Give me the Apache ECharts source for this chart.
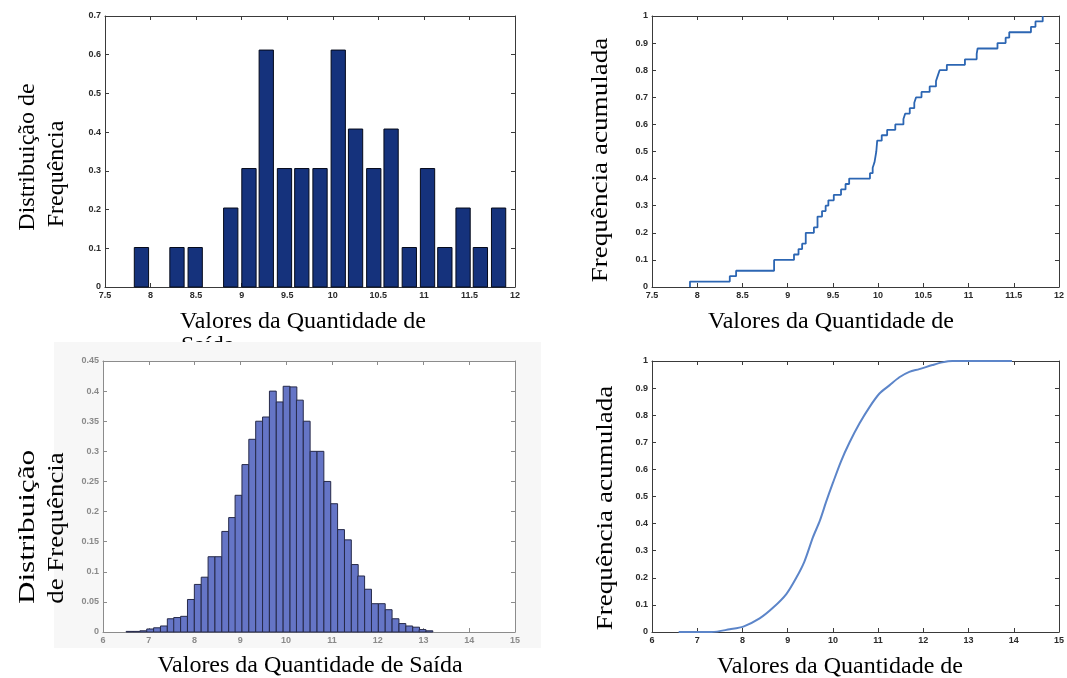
<!DOCTYPE html>
<html>
<head>
<meta charset="utf-8">
<script src="https://cdn.jsdelivr.net/npm/echarts@6/dist/echarts.min.js"></script>
<style>html,body{margin:0;padding:0;background:#fff}#c{width:1067px;height:678px}</style>
</head>
<body>
<div id="c"></div>
<script>
// ---- Data ----
// Top-left histogram (50 samples)
const hist1Centers = [7.9, 8.1, 8.29, 8.49, 8.68, 8.88, 9.08, 9.27, 9.47, 9.66, 9.86, 10.06, 10.25, 10.45, 10.64, 10.84, 11.04, 11.23, 11.43, 11.62, 11.82];
const hist1Values  = [0.102, 0, 0.102, 0.102, 0, 0.204, 0.306, 0.612, 0.306, 0.306, 0.306, 0.612, 0.408, 0.306, 0.408, 0.102, 0.306, 0.102, 0.204, 0.102, 0.204];
const hist1BinWidth = 0.196;

// Top-right empirical cumulative frequency (step points)
const cdf1X = [7.92, 7.92, 8.36, 8.43, 8.85, 9.07, 9.12, 9.16, 9.2, 9.29, 9.33, 9.38, 9.42, 9.45, 9.51, 9.59, 9.64, 9.68, 9.91, 9.94, 9.96, 9.98, 9.99, 10.04, 10.1, 10.19, 10.28, 10.3, 10.35, 10.4, 10.42, 10.48, 10.57, 10.64, 10.66, 10.68, 10.76, 10.96, 11.09, 11.1, 11.32, 11.41, 11.45, 11.69, 11.74, 11.82];
const cdf1Y = [0, 0.02, 0.04, 0.06, 0.1, 0.12, 0.14, 0.16, 0.2, 0.22, 0.26, 0.28, 0.30, 0.32, 0.34, 0.36, 0.38, 0.40, 0.42, 0.44, 0.46, 0.5, 0.54, 0.56, 0.58, 0.60, 0.62, 0.64, 0.66, 0.68, 0.70, 0.72, 0.74, 0.76, 0.78, 0.80, 0.82, 0.84, 0.86, 0.88, 0.90, 0.92, 0.94, 0.96, 0.98, 1.0];

// Bottom-left histogram
const hist2Centers = [6.58, 6.73, 6.88, 7.03, 7.18, 7.33, 7.48, 7.62, 7.77, 7.92, 8.07, 8.22, 8.37, 8.52, 8.67, 8.82, 8.96, 9.11, 9.26, 9.41, 9.56, 9.71, 9.86, 10.01, 10.16, 10.30, 10.45, 10.60, 10.75, 10.90, 11.05, 11.20, 11.35, 11.50, 11.64, 11.79, 11.94, 12.09, 12.24, 12.39, 12.54, 12.69, 12.84, 12.98, 13.13];
const hist2Values  = [0.001, 0.001, 0.002, 0.005, 0.007, 0.010, 0.022, 0.024, 0.026, 0.054, 0.079, 0.091, 0.125, 0.125, 0.167, 0.19, 0.227, 0.278, 0.32, 0.35, 0.357, 0.40, 0.382, 0.408, 0.407, 0.385, 0.35, 0.30, 0.30, 0.25, 0.213, 0.17, 0.153, 0.112, 0.093, 0.071, 0.047, 0.047, 0.037, 0.022, 0.014, 0.010, 0.008, 0.004, 0.002];
const hist2BinWidth = 0.149;

// Bottom-right cumulative frequency
const cdf2X = [6.59, 7.32, 7.72, 8.02, 8.38, 8.68, 8.97, 9.19, 9.37, 9.56, 9.71, 9.85, 10.0, 10.18, 10.37, 10.59, 10.81, 11.03, 11.25, 11.47, 11.69, 11.91, 12.2, 12.42, 12.64, 13.96];
const cdf2Y = [0, 0, 0.01, 0.02, 0.05, 0.09, 0.14, 0.2, 0.26, 0.35, 0.41, 0.48, 0.55, 0.63, 0.70, 0.77, 0.83, 0.88, 0.91, 0.94, 0.96, 0.97, 0.985, 0.995, 1.0, 1.0];

// Axis ranges
const xRangeTop = {min: 7.5, max: 12, interval: 0.5};
const xRangeBottom = {min: 6, max: 15, interval: 1};
const yRangeTL = {min: 0, max: 0.7, interval: 0.1};
const yRangeBL = {min: 0, max: 0.45, interval: 0.05};
const yRangeCdf = {min: 0, max: 1, interval: 0.1};

const xTitle = 'Valores da Quantidade de';
const xTitleFull = 'Valores da Quantidade de Saída';
const yTitleCdf = 'Frequência acumulada';

// ---- Chart ----
const chart = echarts.init(document.getElementById('c'), null, {renderer: 'canvas'});
const serif = '"Liberation Serif", "Times New Roman", serif';
const Z = 1; // chart layer above the pasted-panel background layer

const grids = [
  {left: 105, top: 16, width: 410, height: 271, zlevel: Z},
  {left: 652, top: 16, width: 410, height: 271, zlevel: Z},
  {left: 103, top: 361, width: 412, height: 271, zlevel: Z, show: true, backgroundColor: '#ffffff', borderWidth: 0, borderColor: 'transparent'},
  {left: 652, top: 361, width: 409, height: 271, zlevel: Z}
];
const xRanges = [xRangeTop, xRangeTop, xRangeBottom, xRangeBottom];
const yRanges = [yRangeTL, yRangeCdf, yRangeBL, yRangeCdf];
const labelColors = ['#2a2a2a', '#2a2a2a', '#8a8a8a', '#2a2a2a'];
const frameColors = ['#3a3a3a', '#3a3a3a', '#8c8c8c', '#3a3a3a'];

const xAxes = [], yAxes = [];
grids.forEach((g, i) => {
  const common = {
    type: 'value', gridIndex: i, zlevel: Z,
    axisLine: {show: true, onZero: false, lineStyle: {color: frameColors[i], width: 1}},
    axisTick: {show: true, inside: true, length: 4, lineStyle: {color: frameColors[i]}},
    splitLine: {show: false}
  };
  xAxes.push(Object.assign({}, common, xRanges[i], {
    position: 'bottom',
    axisLabel: {show: true, fontSize: 9, fontWeight: 'bold', color: labelColors[i], margin: 4, fontFamily: 'Liberation Sans'}
  }));
  xAxes.push(Object.assign({}, common, xRanges[i], {
    position: 'top', axisLabel: {show: false}
  }));
  yAxes.push(Object.assign({}, common, yRanges[i], {
    position: 'left',
    axisLabel: {show: true, fontSize: 9, fontWeight: 'bold', color: labelColors[i], margin: 4, fontFamily: 'Liberation Sans'}
  }));
  yAxes.push(Object.assign({}, common, yRanges[i], {
    position: 'right', axisLabel: {show: false}
  }));
});

function barRenderer(binW, frac, fill, stroke) {
  return function (params, api) {
    const c = api.value(0), v = api.value(1);
    if (v <= 0) return null;
    const p0 = api.coord([c - binW * frac / 2, v]);
    const p1 = api.coord([c + binW * frac / 2, 0]);
    return {
      type: 'rect',
      shape: {x: p0[0], y: p0[1], width: p1[0] - p0[0], height: p1[1] - p0[1]},
      style: {fill: fill, stroke: stroke, lineWidth: 1}
    };
  };
}

const series = [
  {
    type: 'custom', xAxisIndex: 0, yAxisIndex: 0, zlevel: Z,
    renderItem: barRenderer(hist1BinWidth, 0.8, '#15327c', '#050a1a'),
    data: hist1Centers.map((c, i) => [c, hist1Values[i]]),
    z: 3
  },
  {
    type: 'line', xAxisIndex: 2, yAxisIndex: 2, step: 'end', showSymbol: false, zlevel: Z,
    lineStyle: {color: '#2c66b3', width: 1.8},
    data: cdf1X.map((x, i) => [x, cdf1Y[i]]),
    z: 3
  },
  {
    type: 'custom', xAxisIndex: 4, yAxisIndex: 4, zlevel: Z,
    renderItem: barRenderer(hist2BinWidth, 1.0, '#6575c6', '#262a4a'),
    data: hist2Centers.map((c, i) => [c, hist2Values[i]]),
    z: 3
  },
  {
    type: 'line', xAxisIndex: 6, yAxisIndex: 6, smooth: 0.3, showSymbol: false, zlevel: Z,
    lineStyle: {color: '#5c85c9', width: 2},
    data: cdf2X.map((x, i) => [x, cdf2Y[i]]),
    z: 3
  }
];

function txt(text, x, y, rot, stretch) {
  return {
    type: 'text', x: x, y: y, z: 10, zlevel: Z, silent: true,
    rotation: rot || 0, scaleX: stretch || 1,
    style: {
      text: text, font: '24px ' + serif, fill: '#000',
      align: 'center', verticalAlign: 'middle'
    }
  };
}

const R = Math.PI / 2;
const graphic = [
  // clipped second line of the top-left axis title, hidden by the pasted bottom-left panel
  {type: 'text', x: 181, y: 334, z: 0, zlevel: 0, silent: true,
   style: {text: 'Saída', font: '24px ' + serif, fill: '#000', align: 'left', verticalAlign: 'top'}},
  {type: 'rect', z: 5, zlevel: 0, silent: true, shape: {x: 54, y: 342, width: 487, height: 306},
   style: {fill: '#f7f7f7'}},
  txt(xTitle, 303, 322),
  txt(xTitle, 831, 322),
  txt(xTitleFull, 310, 666),
  txt(xTitle, 840, 667),
  txt('Distribuição de', 28, 157, R),
  txt('Frequência', 57, 174, R),
  txt('Distribuição', 28, 527, R, 1.3),
  txt('de Frequência', 57, 528, R, 1.12),
  txt(yTitleCdf, 601, 160, R, 1.13),
  txt(yTitleCdf, 606, 508, R, 1.13)
];

chart.setOption({
  animation: false,
  backgroundColor: '#ffffff',
  grid: grids,
  xAxis: xAxes,
  yAxis: yAxes,
  series: series,
  graphic: graphic
});
</script>
</body>
</html>
